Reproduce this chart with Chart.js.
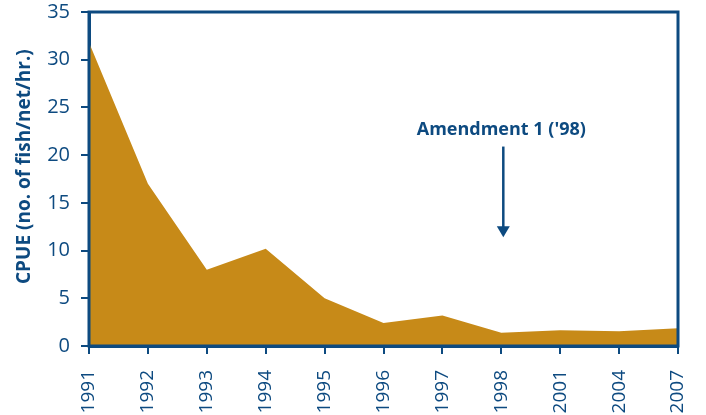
<!DOCTYPE html>
<html>
<head>
<meta charset="utf-8">
<script src="https://cdn.jsdelivr.net/npm/chart.js@4.4.0/dist/chart.umd.min.js"></script>
<style>
  html, body { margin: 0; padding: 0; background: #fff; }
  #wrap { width: 706px; height: 415px; }
</style>
</head>
<body>
<div id="wrap"><canvas id="cpueChart"></canvas></div>
<script>
const years = ['1991', '1992', '1993', '1994', '1995', '1996', '1997', '1998', '2001', '2004', '2007'];
const cpue = [31.8, 17.0, 8.0, 10.2, 5.0, 2.4, 3.2, 1.4, 1.65, 1.55, 1.85];
const yTicks = [0, 5, 10, 15, 20, 25, 30, 35];
const yTitle = 'CPUE (no. of fish/net/hr.)';

const blue = '#0d4a80';
const gold = '#c78a18';

// frame round the plot, y title, and the amendment arrow
const extras = {
    id: 'extras',
    afterDraw(chart) {
        const c = chart.ctx;
        const a = chart.chartArea;
        const x = chart.scales.x;
        const y = chart.scales.y;
        c.save();
        c.strokeStyle = blue;
        c.lineWidth = 3;
        c.strokeRect(a.left, a.top, a.right - a.left, a.bottom - a.top);

        // y title sits a bit above the axis middle in the original
        c.fillStyle = blue;
        c.save();
        c.translate(25, y.getPixelForValue(18.8));
        c.rotate(-Math.PI / 2);
        c.font = 'bold 19px "Open Sans"';
        c.textAlign = 'center';
        c.textBaseline = 'middle';
        c.fillText(yTitle, 0, 0);
        c.restore();

        const ax = x.getPixelForValue(7) + 2;
        const top = y.getPixelForValue(20.9);
        const tip = y.getPixelForValue(11.4);
        c.lineWidth = 2.5;
        c.beginPath();
        c.moveTo(ax, top);
        c.lineTo(ax, tip - 8);
        c.stroke();
        c.beginPath();
        c.moveTo(ax - 6.5, tip - 11);
        c.lineTo(ax + 6.5, tip - 11);
        c.lineTo(ax, tip);
        c.closePath();
        c.fill();

        c.font = 'bold 18px "Open Sans"';
        c.textAlign = 'center';
        c.textBaseline = 'middle';
        c.fillText("Amendment 1 ('98)", ax - 2, y.getPixelForValue(22.6));
        c.restore();
    }
};

new Chart(document.getElementById('cpueChart'), {
    type: 'line',
    data: {
        labels: years,
        datasets: [{
            data: cpue,
            borderColor: gold,
            backgroundColor: gold,
            borderWidth: 0,
            pointRadius: 0,
            fill: 'origin',
            tension: 0
        }]
    },
    options: {
        responsive: true,
        maintainAspectRatio: false,
        animation: false,
        layout: { padding: { top: 12, right: 28, left: 0, bottom: 0 } },
        plugins: {
            legend: { display: false },
            tooltip: { enabled: false }
        },
        scales: {
            x: {
                offset: false,
                afterFit(axis) {
                    axis.height = 69;
                    axis.paddingLeft = 0;
                    axis.paddingRight = 0;
                },
                border: { color: blue, width: 3 },
                grid: { drawOnChartArea: false, drawTicks: true, tickLength: 8, color: blue, lineWidth: 2 },
                ticks: {
                    color: blue,
                    font: { family: 'Open Sans', size: 19 },
                    maxRotation: 90,
                    minRotation: 90,
                    autoSkip: false,
                    padding: 16
                }
            },
            y: {
                min: 0,
                max: 35,
                afterBuildTicks(axis) { axis.ticks = yTicks.map(v => ({ value: v })); },
                afterFit(axis) {
                    axis.width = 89;
                    axis.paddingTop = 0;
                    axis.paddingBottom = 0;
                },
                border: { color: blue, width: 3 },
                grid: { drawOnChartArea: false, drawTicks: true, tickLength: 8, color: blue, lineWidth: 2 },
                ticks: {
                    color: blue,
                    font: { family: 'Open Sans', size: 20 },
                    padding: 11
                }
            }
        }
    },
    plugins: [extras]
});
</script>
</body>
</html>
